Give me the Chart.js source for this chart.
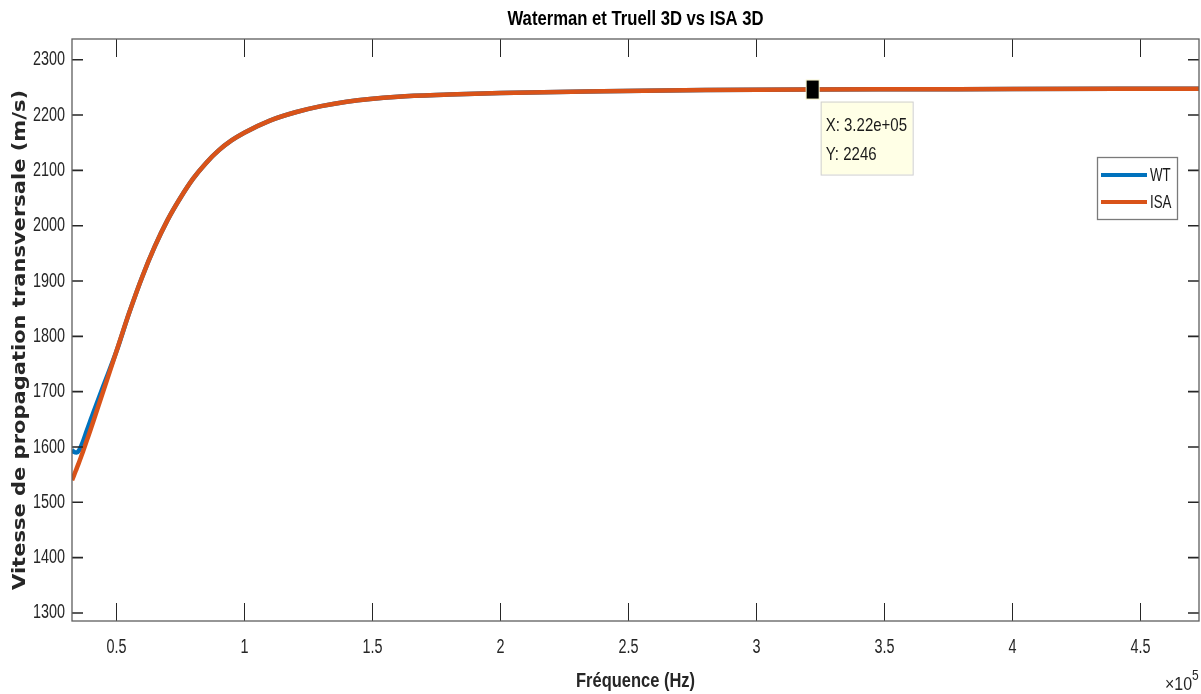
<!DOCTYPE html>
<html>
<head>
<meta charset="utf-8">
<script src="https://cdn.jsdelivr.net/npm/chart.js@4.4.1/dist/chart.umd.min.js"></script>
<style>
  html, body { margin: 0; padding: 0; background: #ffffff; }
  #chart { display: block; }
</style>
</head>
<body>
<canvas id="chart" width="1201" height="694"></canvas>
<script>
// Fréquence (Hz) and velocities (m/s)
const frequencies = [32700, 33500, 34500, 35500, 37000, 38500, 40000, 42000, 45000, 50000,
  55000, 60000, 65000, 70000, 75000, 80000, 85000, 90000, 95000, 100000,
  110000, 120000, 130000, 140000, 160000, 180000, 200000, 240000, 280000, 322000,
  360000, 400000, 472900]
const velocityWT = [1595, 1591, 1590, 1594, 1610, 1630, 1649, 1674, 1711, 1772,
  1842, 1906, 1962, 2010, 2050, 2085, 2113, 2136, 2154, 2168,
  2190, 2205, 2216, 2224, 2233, 2237, 2240, 2243, 2245, 2246,
  2246.5, 2247, 2247.5]
const velocityISA = [1540, 1549, 1561, 1573, 1592, 1612, 1632, 1660, 1702, 1772,
  1842, 1906, 1962, 2010, 2050, 2085, 2113, 2136, 2154, 2168,
  2190, 2205, 2216, 2224, 2233, 2237, 2240, 2243, 2245, 2246,
  2246.5, 2247, 2247.5]

const seriesNames = ['WT', 'ISA']
const seriesColors = ['#0072BD', '#D95319']

const xTicks = [50000, 100000, 150000, 200000, 250000, 300000, 350000, 400000, 450000]
const yTicks = [1300, 1400, 1500, 1600, 1700, 1800, 1900, 2000, 2100, 2200, 2300]
const xRange = [32700, 472900]
const yRange = [1285.5, 2337.4]

const chartTitle = 'Waterman et Truell 3D vs ISA 3D'
const xTitle = 'Fréquence (Hz)'
const yTitle = 'Vitesse de propagation transversale (m/s)'
const datatip = { x: 322000, y: 2246, labels: ['X: 3.22e+05', 'Y: 2246'] }

const SANS = "'Liberation Sans', Arial, sans-serif"
const AXIS_COLOR = '#262626'

function toPoints (ys) {
  return frequencies.map((f, i) => ({ x: f, y: ys[i] }))
}

// the figure uses a condensed Helvetica, so squeeze Liberation Sans sideways
// sx: horizontal factor, or fit: target width in px
function drawText (ctx, text, x, y, o) {
  ctx.save()
  ctx.font = (o.bold ? 'bold ' : '') + o.size + 'px ' + (o.family || SANS)
  ctx.fillStyle = o.color || AXIS_COLOR
  ctx.textAlign = o.align || 'left'
  ctx.textBaseline = o.baseline || 'middle'
  let sx = o.sx || 1
  if (o.fit) sx = o.fit / ctx.measureText(text).width
  ctx.translate(x, y)
  if (o.rotate) ctx.rotate(o.rotate)
  ctx.scale(sx, 1)
  ctx.fillText(text, 0, 0)
  ctx.restore()
}

// box, inner ticks, labels, legend and datatip, MATLAB style
const matlabAxes = {
  id: 'matlabAxes',
  afterDraw (chart) {
    const ctx = chart.ctx
    const area = chart.chartArea
    const xs = chart.scales.x
    const ys = chart.scales.y
    ctx.save()

    // ticks inside the box
    ctx.strokeStyle = AXIS_COLOR
    ctx.lineWidth = 1
    xTicks.forEach(v => {
      const px = Math.round(xs.getPixelForValue(v)) + 0.5
      ctx.beginPath()
      ctx.moveTo(px, area.bottom); ctx.lineTo(px, area.bottom - 18)
      ctx.moveTo(px, area.top); ctx.lineTo(px, area.top + 18)
      ctx.stroke()
      drawText(ctx, String(v / 100000), px, 647, { size: 20, sx: 0.72, align: 'center' })
    })
    ctx.lineWidth = 1.6
    yTicks.forEach(v => {
      const py = ys.getPixelForValue(v)
      ctx.beginPath()
      ctx.moveTo(area.left, py); ctx.lineTo(area.left + 11, py)
      ctx.moveTo(area.right, py); ctx.lineTo(area.right - 11, py)
      ctx.stroke()
      drawText(ctx, String(v), 65, py, { size: 20, sx: 0.72, align: 'right' })
    })

    // box
    ctx.strokeStyle = '#5e5e5e'
    ctx.lineWidth = 1.3
    ctx.strokeRect(area.left, area.top, area.right - area.left, area.bottom - area.top)

    // titles
    const cx = (area.left + area.right) / 2
    drawText(ctx, chartTitle, cx, 19, { size: 20, bold: true, fit: 256, align: 'center', color: '#000000' })
    drawText(ctx, xTitle, cx, 681, { size: 21, bold: true, fit: 119, align: 'center' })
    drawText(ctx, yTitle, 25, 340, {
      size: 17,
      bold: true,
      family: '"DejaVu Sans", Verdana, sans-serif',
      fit: 500,
      align: 'center',
      baseline: 'alphabetic',
      rotate: -Math.PI / 2
    })
    drawText(ctx, '\u00d710', 1192, 690, { size: 18, fit: 27, align: 'right', baseline: 'alphabetic' })
    drawText(ctx, '5', 1192, 680, { size: 15, sx: 0.8, baseline: 'alphabetic' })

    // datatip marker and box
    const mx = xs.getPixelForValue(datatip.x)
    const my = ys.getPixelForValue(datatip.y)
    ctx.fillStyle = '#f4f0c8'
    ctx.fillRect(mx - 7, my - 10, 14, 20)
    ctx.fillStyle = '#000000'
    ctx.fillRect(mx - 6, my - 9, 12, 18)
    const bx = mx + 8
    const by = my + 12
    ctx.fillStyle = '#ffffe6'
    ctx.fillRect(bx, by, 92, 73)
    ctx.strokeStyle = '#cfcfcf'
    ctx.lineWidth = 1
    ctx.strokeRect(bx + 0.5, by + 0.5, 92, 73)
    drawText(ctx, datatip.labels[0], bx + 5, by + 24, { size: 19, sx: 0.79, color: '#1a1a1a' })
    drawText(ctx, datatip.labels[1], bx + 5, by + 53, { size: 19, sx: 0.79, color: '#1a1a1a' })

    // legend
    const lx = 1097
    const ly = 157
    ctx.fillStyle = '#ffffff'
    ctx.fillRect(lx, ly, 80, 62)
    ctx.strokeStyle = '#7a7a7a'
    ctx.lineWidth = 1.3
    ctx.strokeRect(lx + 0.5, ly + 0.5, 80, 62)
    seriesNames.forEach((name, i) => {
      const rowY = ly + 18 + i * 27
      ctx.strokeStyle = seriesColors[i]
      ctx.lineWidth = 4
      ctx.beginPath()
      ctx.moveTo(lx + 4, rowY); ctx.lineTo(lx + 50, rowY)
      ctx.stroke()
      drawText(ctx, name, lx + 53, rowY + 1, { size: 18, sx: 0.74, color: '#1a1a1a' })
    })

    ctx.restore()
  }
}

const data = {
  datasets: seriesNames.map((name, i) => ({
    label: name,
    data: toPoints(i === 0 ? velocityWT : velocityISA),
    borderColor: seriesColors[i],
    backgroundColor: seriesColors[i],
    borderWidth: 4.5,
    pointRadius: 0,
    cubicInterpolationMode: 'monotone',
    fill: false,
    order: i === 0 ? 1 : 0 // ISA drawn over WT
  }))
}

const options = {
  responsive: false,
  animation: false,
  devicePixelRatio: 1,
  events: [],
  layout: { padding: { left: 0, right: 2, top: 39, bottom: 0 } },
  scales: {
    x: {
      type: 'linear',
      min: xRange[0],
      max: xRange[1],
      afterBuildTicks (scale) { scale.ticks = xTicks.map(v => ({ value: v })) },
      afterFit (scale) { scale.height = 73 },
      grid: { display: false, drawTicks: false },
      border: { display: false },
      ticks: { display: false }
    },
    y: {
      type: 'linear',
      min: yRange[0],
      max: yRange[1],
      afterBuildTicks (scale) { scale.ticks = yTicks.map(v => ({ value: v })) },
      afterFit (scale) { scale.width = 72 },
      grid: { display: false, drawTicks: false },
      border: { display: false },
      ticks: { display: false }
    }
  },
  plugins: {
    legend: { display: false },
    tooltip: { enabled: false },
    title: { display: false }
  }
}

new Chart(document.getElementById('chart').getContext('2d'), {
  type: 'line',
  data,
  options,
  plugins: [matlabAxes]
})
</script>
</body>
</html>
